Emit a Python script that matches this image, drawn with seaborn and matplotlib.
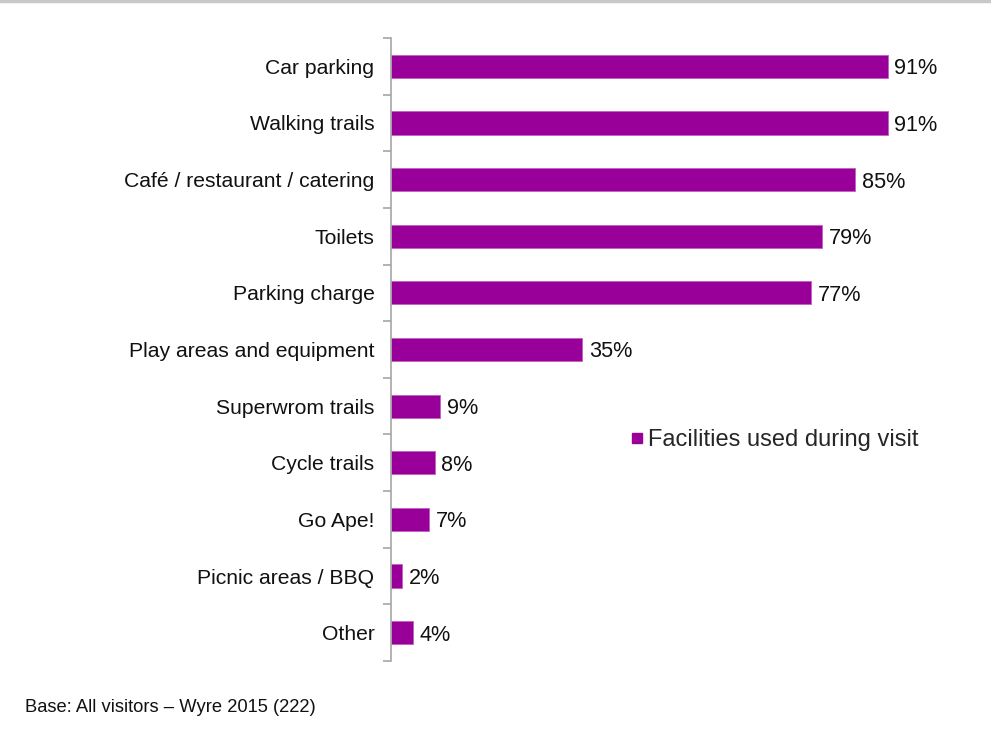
import matplotlib
matplotlib.use("Agg")
import matplotlib.pyplot as plt
import matplotlib.lines as mlines
import seaborn as sns
import pandas as pd
import numpy as np

categories = [
    "Car parking", "Walking trails", "Café / restaurant / catering", "Toilets",
    "Parking charge", "Play areas and equipment", "Superwrom trails",
    "Cycle trails", "Go Ape!", "Picnic areas / BBQ", "Other",
]
values = [91, 91, 85, 79, 77, 35, 9, 8, 7, 2, 4]
series_name = "Facilities used during visit"
footnote = "Base: All visitors \u2013 Wyre 2015 (222)"

sns.set_theme(style="white")
plt.rcParams["font.family"] = ["Liberation Sans", "DejaVu Sans"]

bar_color = "#990099"
df = pd.DataFrame({"Facility": categories, "Percent": values})

fig = plt.figure(figsize=(9.91, 7.34), dpi=100)
ax = fig.add_axes([0.3946, 0.0995, 0.5509, 0.8487])

sns.barplot(data=df, y="Facility", x="Percent", orient="h", color=bar_color,
            width=0.41, saturation=1, ax=ax, edgecolor="#c060c0", linewidth=0.6)

ax.set_xlim(0, 100)
ax.set_ylim(len(categories) - 0.5, -0.5)
ax.set_xlabel("")
ax.set_ylabel("")
ax.set_xticks([])

for s in ["top", "right", "bottom"]:
    ax.spines[s].set_visible(False)
ax.spines["left"].set_color("#a6a6a6")
ax.spines["left"].set_linewidth(1.2)

# category labels without tick marks; boundary ticks as minor ticks
ax.set_yticks(range(len(categories)))
ax.set_yticklabels(categories, fontsize=15.2)
ax.tick_params(axis="y", which="major", length=0, pad=12, labelcolor="#111111")
ax.set_yticks(np.arange(-0.5, len(categories), 1.0), minor=True)
ax.tick_params(axis="y", which="minor", length=6, width=1.2, color="#a6a6a6",
               left=True)

for i, v in enumerate(values):
    ax.text(v + 1.2, i, f"{v}%", va="center_baseline", ha="left",
            fontsize=15.6, color="#111111")

handle = mlines.Line2D([], [], marker="s", linestyle="none", color=bar_color,
                       markersize=7.2)
fig.legend([handle], [series_name], loc="center left",
           bbox_to_anchor=(0.636, 0.4005), frameon=False, fontsize=17,
           handletextpad=0.15, borderaxespad=0, borderpad=0, handlelength=0.6)

fig.text(0.025, 0.036, footnote, fontsize=13.2, color="#111111", va="center")

# thin grey rule along the top edge
fig.add_artist(mlines.Line2D([0, 1], [0.998, 0.998], transform=fig.transFigure,
                             color="#c8c8c8", linewidth=2.5))

fig.savefig("out.png", dpi=100)
